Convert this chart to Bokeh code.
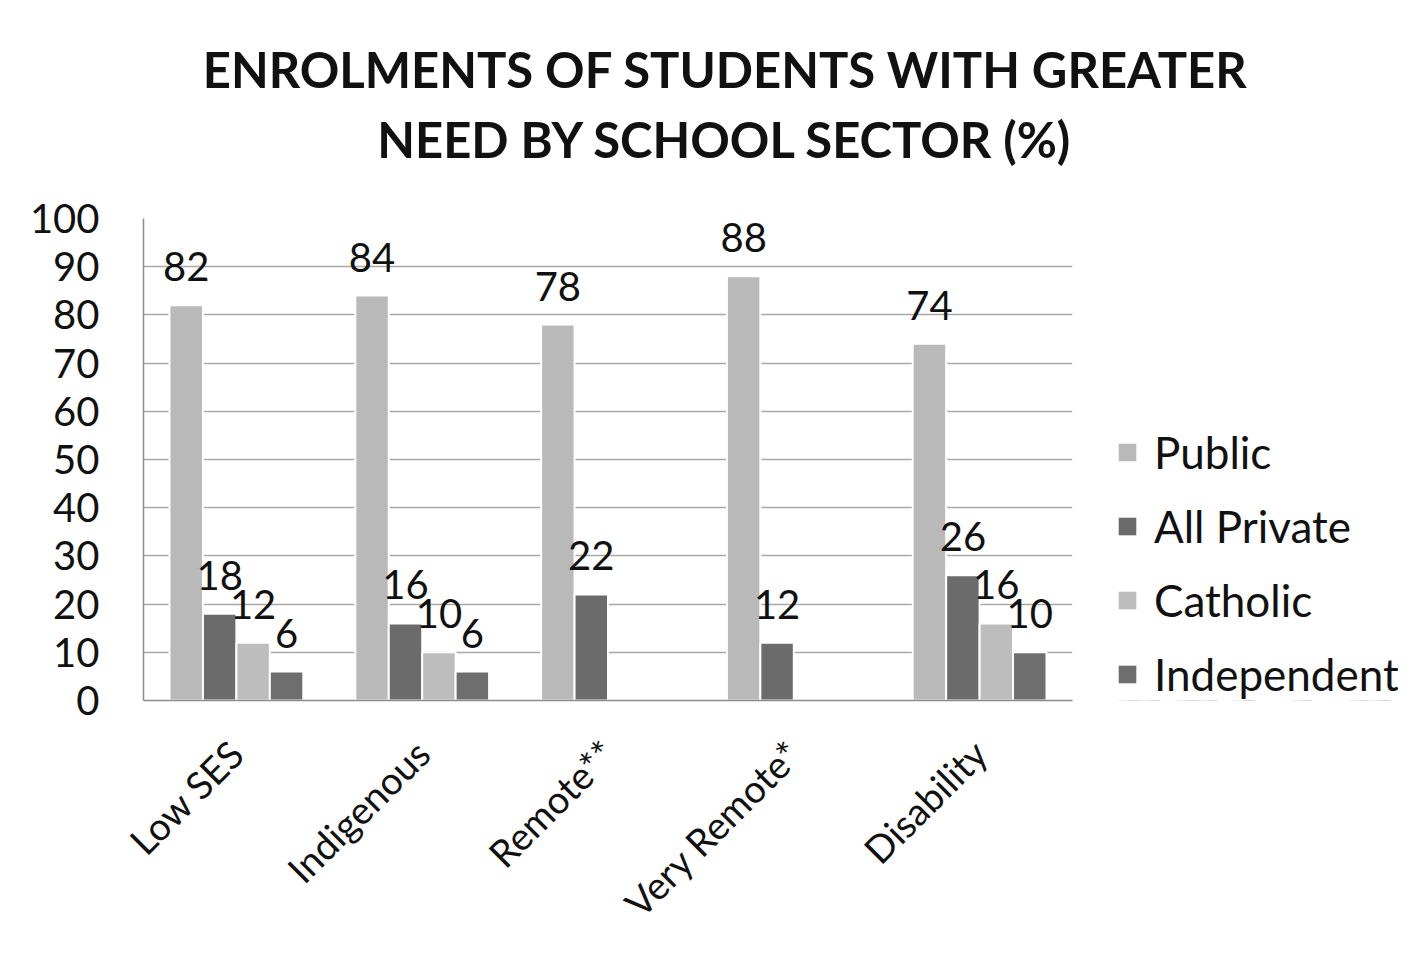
import math
from bokeh.plotting import figure
from bokeh.layouts import column, row
from bokeh.models import (FactorRange, Range1d, FixedTicker, Legend, Label,
                          LegendItem, ColumnDataSource)
from bokeh.transform import dodge
from bokeh.core.properties import value
from bokeh.embed import file_html
from bokeh.resources import INLINE

# ---- data ----
categories = ["Low SES", "Indigenous", "Remote**", "Very Remote*", "Disability"]
series_names = ["Public", "All Private", "Catholic", "Independent"]
public = [82, 84, 78, 88, 74]
all_private = [18, 16, 22, 12, 26]
catholic = [12, 10, None, None, 16]
independent = [6, 6, None, None, 10]
y_ticks = [0, 10, 20, 30, 40, 50, 60, 70, 80, 90, 100]
title_lines = ["ENROLMENTS OF STUDENTS WITH GREATER", "NEED BY SCHOOL SECTOR (%)"]

series_values = [public, all_private, catholic, independent]
colors = ["#b9b9b9", "#6b6b6b", "#bdbdbd", "#6e6e6e"]
offsets = [-0.27, -0.09, 0.09, 0.27]
FONT = "Lato"
TXT = "#111111"

# ---------- title strip ----------
tf = figure(width=1398, height=178, output_backend="svg", toolbar_location=None,
            x_range=Range1d(0, 1), y_range=Range1d(0, 1),
            x_axis_location=None, y_axis_location=None,
            min_border_left=0, min_border_right=0, min_border_top=0,
            min_border_bottom=0)
tf.title.visible = False
tf.grid.visible = False
tf.outline_line_color = None
for txt, ys in zip(title_lines, [110, 40]):
    tf.add_layout(Label(x=725, y=ys, x_units="screen", y_units="screen", text=txt,
                        text_align="center", text_baseline="middle",
                        text_font=FONT, text_font_style="bold",
                        text_font_size="49px", text_color=TXT))

# ---------- main chart ----------
p = figure(x_range=FactorRange(factors=categories), y_range=Range1d(0, 100),
           width=1110, height=766, output_backend="svg", toolbar_location=None,
           min_border_left=143, min_border_right=38, min_border_top=40,
           min_border_bottom=237)
p.title.visible = False
p.outline_line_color = None

p.xgrid.visible = False
p.ygrid.ticker = FixedTicker(ticks=y_ticks)
p.ygrid.grid_line_color = "#a9a9a9"
p.ygrid.grid_line_width = 1.5

p.yaxis.ticker = FixedTicker(ticks=y_ticks)
p.yaxis.axis_line_color = "#8c8c8c"
p.yaxis.axis_line_width = 1.5
p.yaxis.major_tick_line_color = None
p.yaxis.minor_tick_line_color = None
p.yaxis.major_label_standoff = 38
p.yaxis.major_label_text_font = FONT
p.yaxis.major_label_text_font_size = "40px"
p.yaxis.major_label_text_color = TXT

p.xaxis.axis_line_color = "#8c8c8c"
p.xaxis.axis_line_width = 1.5
p.xaxis.major_tick_line_color = None
p.xaxis.minor_tick_line_color = None
p.xaxis.major_label_orientation = math.pi / 4
p.xaxis.major_label_standoff = 40
p.xaxis.major_label_text_font = FONT
p.xaxis.major_label_text_font_size = "38px"
p.xaxis.major_label_text_color = TXT

# ---------- legend strip ----------
lf = figure(x_range=FactorRange(factors=categories), y_range=Range1d(500, 600),
            width=288, height=766, output_backend="svg", toolbar_location=None,
            x_axis_location=None, y_axis_location=None,
            min_border_left=0, min_border_right=0, min_border_top=0,
            min_border_bottom=0)
lf.title.visible = False
lf.grid.visible = False
lf.outline_line_color = None

items = []
for name, vals, col, off in zip(series_names, series_values, colors, offsets):
    cats = [c for c, v in zip(categories, vals) if v is not None]
    vs = [v for v in vals if v is not None]
    src = ColumnDataSource(dict(cat=cats, val=vs, lab=[str(v) for v in vs]))
    p.vbar(x=dodge("cat", off, range=p.x_range), top="val", width=0.18,
           source=src, fill_color=col, line_color="white", line_width=2)
    p.text(x=dodge("cat", off, range=p.x_range), y="val", text="lab", source=src,
           text_align="center", text_baseline="bottom", y_offset=-24,
           text_font=value(FONT), text_font_size="40px", text_color=TXT)
    # same series in the legend strip (lies outside its visible range)
    r = lf.vbar(x=dodge("cat", off, range=lf.x_range), top="val", width=0.18,
                source=src, fill_color=col, line_color=None)
    items.append(LegendItem(label=name, renderers=[r]))

legend = Legend(items=items, location=(6, 0), orientation="vertical",
                glyph_width=22, glyph_height=22, label_standoff=16,
                spacing=22, padding=0, margin=0,
                border_line_color=None, background_fill_alpha=0,
                label_text_font=FONT, label_text_font_size="44px",
                label_text_color=TXT)
lf.add_layout(legend, "center")

layout = column(tf, row(p, lf, spacing=0), spacing=0)
open("out.html", "w").write(file_html(layout, INLINE))
